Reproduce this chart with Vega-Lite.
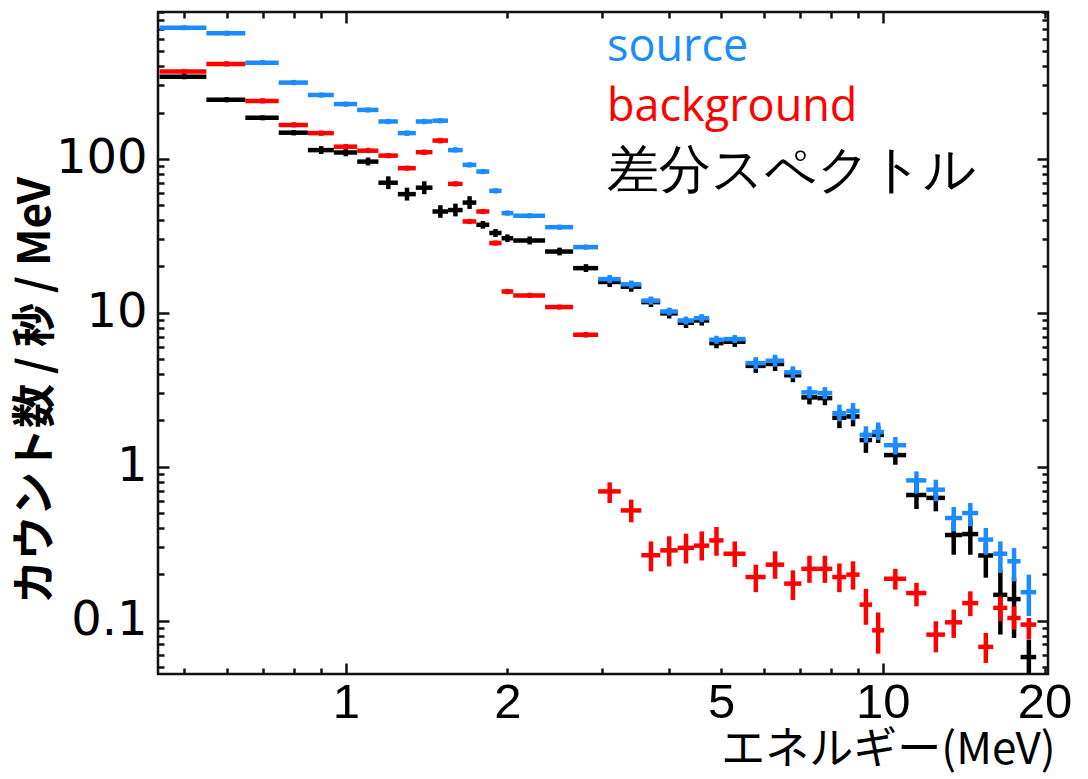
{
  "$schema": "https://vega.github.io/schema/vega-lite/v6.json",
  "width": 890,
  "height": 662,
  "autosize": {"type": "none"},
  "padding": {"left": 158, "top": 12, "right": 40, "bottom": 105},
  "background": "white",
  "config": {
    "view": {"stroke": "#111", "strokeWidth": 2.5},
    "axis": {"grid": false, "domain": false, "tickColor": "#111", "tickWidth": 2.5, "labelOverlap": false, "labelFlush": false, "labelBound": false, "labelColor": "#000", "titleColor": "#000"}
  },
  "datasets": {
    "diff": [
      {"s":"差分スペクトル","e0":0.45,"e1":0.55,"e":0.5,"v":342,"v0":329,"v1":356},
      {"s":"差分スペクトル","e0":0.55,"e1":0.65,"e":0.6,"v":242,"v0":233,"v1":252},
      {"s":"差分スペクトル","e0":0.65,"e1":0.75,"e":0.7,"v":185,"v0":178,"v1":192},
      {"s":"差分スペクトル","e0":0.75,"e1":0.85,"e":0.8,"v":148,"v0":142,"v1":154},
      {"s":"差分スペクトル","e0":0.85,"e1":0.95,"e":0.9,"v":114,"v0":107.5,"v1":121},
      {"s":"差分スペクトル","e0":0.95,"e1":1.05,"e":1.0,"v":110,"v0":104,"v1":117},
      {"s":"差分スペクトル","e0":1.05,"e1":1.15,"e":1.1,"v":96,"v0":90.6,"v1":102},
      {"s":"差分スペクトル","e0":1.15,"e1":1.25,"e":1.2,"v":70,"v0":63.6,"v1":77},
      {"s":"差分スペクトル","e0":1.25,"e1":1.35,"e":1.3,"v":59,"v0":53.6,"v1":65},
      {"s":"差分スペクトル","e0":1.35,"e1":1.45,"e":1.4,"v":65,"v0":59,"v1":71.5},
      {"s":"差分スペクトル","e0":1.45,"e1":1.55,"e":1.5,"v":45.5,"v0":41.4,"v1":50},
      {"s":"差分スペクトル","e0":1.55,"e1":1.65,"e":1.6,"v":46.5,"v0":42.3,"v1":51.2},
      {"s":"差分スペクトル","e0":1.65,"e1":1.75,"e":1.7,"v":52,"v0":47.3,"v1":57.2},
      {"s":"差分スペクトル","e0":1.75,"e1":1.85,"e":1.8,"v":37.3,"v0":35.2,"v1":39.5},
      {"s":"差分スペクトル","e0":1.85,"e1":1.95,"e":1.9,"v":33,"v0":31.1,"v1":35},
      {"s":"差分スペクトル","e0":1.95,"e1":2.05,"e":2.0,"v":30.5,"v0":28.8,"v1":32.3},
      {"s":"差分スペクトル","e0":2.05,"e1":2.35,"e":2.2,"v":29.5,"v0":27.8,"v1":31.3},
      {"s":"差分スペクトル","e0":2.35,"e1":2.65,"e":2.5,"v":25,"v0":23.6,"v1":26.5},
      {"s":"差分スペクトル","e0":2.65,"e1":2.95,"e":2.8,"v":19.5,"v0":18.4,"v1":20.7},
      {"s":"差分スペクトル","e0":2.95,"e1":3.25,"e":3.1,"v":15.86,"v0":14.7,"v1":17.1},
      {"s":"差分スペクトル","e0":3.25,"e1":3.55,"e":3.4,"v":14.78,"v0":13.7,"v1":16},
      {"s":"差分スペクトル","e0":3.55,"e1":3.85,"e":3.7,"v":11.73,"v0":10.9,"v1":12.7},
      {"s":"差分スペクトル","e0":3.85,"e1":4.15,"e":4.0,"v":9.91,"v0":9.18,"v1":10.7},
      {"s":"差分スペクトル","e0":4.15,"e1":4.45,"e":4.3,"v":8.61,"v0":7.97,"v1":9.3},
      {"s":"差分スペクトル","e0":4.45,"e1":4.75,"e":4.6,"v":8.92,"v0":8.26,"v1":9.63},
      {"s":"差分スペクトル","e0":4.75,"e1":5.05,"e":4.9,"v":6.35,"v0":5.88,"v1":6.86},
      {"s":"差分スペクトル","e0":5.05,"e1":5.55,"e":5.3,"v":6.48,"v0":6.0,"v1":7.0},
      {"s":"差分スペクトル","e0":5.55,"e1":6.05,"e":5.8,"v":4.52,"v0":4.07,"v1":5.02},
      {"s":"差分スペクトル","e0":6.05,"e1":6.55,"e":6.3,"v":4.65,"v0":4.19,"v1":5.16},
      {"s":"差分スペクトル","e0":6.55,"e1":7.05,"e":6.8,"v":3.93,"v0":3.54,"v1":4.36},
      {"s":"差分スペクトル","e0":7.05,"e1":7.55,"e":7.3,"v":2.82,"v0":2.54,"v1":3.13},
      {"s":"差分スペクトル","e0":7.55,"e1":8.05,"e":7.8,"v":2.79,"v0":2.51,"v1":3.1},
      {"s":"差分スペクトル","e0":8.05,"e1":8.55,"e":8.3,"v":2.08,"v0":1.78,"v1":2.34},
      {"s":"差分スペクトル","e0":8.55,"e1":9.05,"e":8.8,"v":2.12,"v0":1.83,"v1":2.4},
      {"s":"差分スペクトル","e0":9.05,"e1":9.55,"e":9.3,"v":1.49,"v0":1.23,"v1":1.7},
      {"s":"差分スペクトル","e0":9.55,"e1":10.05,"e":9.8,"v":1.61,"v0":1.425,"v1":1.85},
      {"s":"差分スペクトル","e0":10.05,"e1":11.05,"e":10.55,"v":1.19,"v0":1.03,"v1":1.425},
      {"s":"差分スペクトル","e0":11.05,"e1":12.05,"e":11.55,"v":0.655,"v0":0.531,"v1":0.803},
      {"s":"差分スペクトル","e0":12.05,"e1":13.05,"e":12.55,"v":0.627,"v0":0.513,"v1":0.738},
      {"s":"差分スペクトル","e0":13.05,"e1":14.05,"e":13.55,"v":0.36,"v0":0.268,"v1":0.441},
      {"s":"差分スペクトル","e0":14.05,"e1":15.05,"e":14.55,"v":0.365,"v0":0.268,"v1":0.464},
      {"s":"差分スペクトル","e0":15.05,"e1":16.05,"e":15.55,"v":0.265,"v0":0.19,"v1":0.32},
      {"s":"差分スペクトル","e0":16.05,"e1":17.05,"e":16.55,"v":0.147,"v0":0.0812,"v1":0.215},
      {"s":"差分スペクトル","e0":17.05,"e1":18.05,"e":17.55,"v":0.138,"v0":0.0772,"v1":0.19},
      {"s":"差分スペクトル","e0":18.05,"e1":19.3,"e":18.7,"v":0.058,"v0":0.03,"v1":0.075}
    ],
    "source": [
      {"s":"source","e0":0.45,"e1":0.55,"e":0.5,"v":712,"v0":685,"v1":740},
      {"s":"source","e0":0.55,"e1":0.65,"e":0.6,"v":655,"v0":630,"v1":681},
      {"s":"source","e0":0.65,"e1":0.75,"e":0.7,"v":422,"v0":406,"v1":439},
      {"s":"source","e0":0.75,"e1":0.85,"e":0.8,"v":313,"v0":301,"v1":326},
      {"s":"source","e0":0.85,"e1":0.95,"e":0.9,"v":260,"v0":250,"v1":270},
      {"s":"source","e0":0.95,"e1":1.05,"e":1.0,"v":227,"v0":218,"v1":236},
      {"s":"source","e0":1.05,"e1":1.15,"e":1.1,"v":208,"v0":200,"v1":216},
      {"s":"source","e0":1.15,"e1":1.25,"e":1.2,"v":175,"v0":168,"v1":182},
      {"s":"source","e0":1.25,"e1":1.35,"e":1.3,"v":147,"v0":141,"v1":153},
      {"s":"source","e0":1.35,"e1":1.45,"e":1.4,"v":175,"v0":168,"v1":182},
      {"s":"source","e0":1.45,"e1":1.55,"e":1.5,"v":177,"v0":170,"v1":184},
      {"s":"source","e0":1.55,"e1":1.65,"e":1.6,"v":114,"v0":110,"v1":119},
      {"s":"source","e0":1.65,"e1":1.75,"e":1.7,"v":91.4,"v0":87.9,"v1":95.1},
      {"s":"source","e0":1.75,"e1":1.85,"e":1.8,"v":82.7,"v0":79.5,"v1":86},
      {"s":"source","e0":1.85,"e1":1.95,"e":1.9,"v":62,"v0":59.6,"v1":64.5},
      {"s":"source","e0":1.95,"e1":2.05,"e":2.0,"v":44.4,"v0":42.7,"v1":46.2},
      {"s":"source","e0":2.05,"e1":2.35,"e":2.2,"v":42.7,"v0":41.1,"v1":44.4},
      {"s":"source","e0":2.35,"e1":2.65,"e":2.5,"v":36,"v0":34.6,"v1":37.4},
      {"s":"source","e0":2.65,"e1":2.95,"e":2.8,"v":26.7,"v0":25.7,"v1":27.8},
      {"s":"source","e0":2.95,"e1":3.25,"e":3.1,"v":16.55,"v0":15.6,"v1":17.6},
      {"s":"source","e0":3.25,"e1":3.55,"e":3.4,"v":15.3,"v0":14.4,"v1":16.2},
      {"s":"source","e0":3.55,"e1":3.85,"e":3.7,"v":12.0,"v0":11.3,"v1":12.7},
      {"s":"source","e0":3.85,"e1":4.15,"e":4.0,"v":10.2,"v0":9.6,"v1":10.8},
      {"s":"source","e0":4.15,"e1":4.45,"e":4.3,"v":8.91,"v0":8.39,"v1":9.46},
      {"s":"source","e0":4.45,"e1":4.75,"e":4.6,"v":9.23,"v0":8.69,"v1":9.8},
      {"s":"source","e0":4.75,"e1":5.05,"e":4.9,"v":6.68,"v0":6.29,"v1":7.09},
      {"s":"source","e0":5.05,"e1":5.55,"e":5.3,"v":6.75,"v0":6.36,"v1":7.17},
      {"s":"source","e0":5.55,"e1":6.05,"e":5.8,"v":4.71,"v0":4.31,"v1":5.15},
      {"s":"source","e0":6.05,"e1":6.55,"e":6.3,"v":4.88,"v0":4.46,"v1":5.34},
      {"s":"source","e0":6.55,"e1":7.05,"e":6.8,"v":4.1,"v0":3.75,"v1":4.49},
      {"s":"source","e0":7.05,"e1":7.55,"e":7.3,"v":3.04,"v0":2.78,"v1":3.33},
      {"s":"source","e0":7.55,"e1":8.05,"e":7.8,"v":3.01,"v0":2.75,"v1":3.29},
      {"s":"source","e0":8.05,"e1":8.55,"e":8.3,"v":2.23,"v0":1.97,"v1":2.53},
      {"s":"source","e0":8.55,"e1":9.05,"e":8.8,"v":2.3,"v0":2.0,"v1":2.59},
      {"s":"source","e0":9.05,"e1":9.55,"e":9.3,"v":1.61,"v0":1.43,"v1":1.83},
      {"s":"source","e0":9.55,"e1":10.05,"e":9.8,"v":1.68,"v0":1.49,"v1":1.94},
      {"s":"source","e0":10.05,"e1":11.05,"e":10.55,"v":1.38,"v0":1.2,"v1":1.56},
      {"s":"source","e0":11.05,"e1":12.05,"e":11.55,"v":0.815,"v0":0.668,"v1":0.932},
      {"s":"source","e0":12.05,"e1":13.05,"e":12.55,"v":0.709,"v0":0.595,"v1":0.823},
      {"s":"source","e0":13.05,"e1":14.05,"e":13.55,"v":0.464,"v0":0.38,"v1":0.547},
      {"s":"source","e0":14.05,"e1":15.05,"e":14.55,"v":0.5,"v0":0.41,"v1":0.581},
      {"s":"source","e0":15.05,"e1":16.05,"e":15.55,"v":0.336,"v0":0.268,"v1":0.4},
      {"s":"source","e0":16.05,"e1":17.05,"e":16.55,"v":0.272,"v0":0.204,"v1":0.327},
      {"s":"source","e0":17.05,"e1":18.05,"e":17.55,"v":0.243,"v0":0.18,"v1":0.296},
      {"s":"source","e0":18.05,"e1":19.3,"e":18.7,"v":0.153,"v0":0.107,"v1":0.199}
    ],
    "background": [
      {"s":"background","e0":0.45,"e1":0.55,"e":0.5,"v":369,"v0":355,"v1":384},
      {"s":"background","e0":0.55,"e1":0.65,"e":0.6,"v":414,"v0":398,"v1":431},
      {"s":"background","e0":0.65,"e1":0.75,"e":0.7,"v":238,"v0":229,"v1":248},
      {"s":"background","e0":0.75,"e1":0.85,"e":0.8,"v":166,"v0":160,"v1":173},
      {"s":"background","e0":0.85,"e1":0.95,"e":0.9,"v":147,"v0":141,"v1":153},
      {"s":"background","e0":0.95,"e1":1.05,"e":1.0,"v":120,"v0":115,"v1":125},
      {"s":"background","e0":1.05,"e1":1.15,"e":1.1,"v":113,"v0":109,"v1":118},
      {"s":"background","e0":1.15,"e1":1.25,"e":1.2,"v":105,"v0":101,"v1":109},
      {"s":"background","e0":1.25,"e1":1.35,"e":1.3,"v":87,"v0":83.7,"v1":90.5},
      {"s":"background","e0":1.35,"e1":1.45,"e":1.4,"v":110.5,"v0":106,"v1":115},
      {"s":"background","e0":1.45,"e1":1.55,"e":1.5,"v":131.5,"v0":126,"v1":137},
      {"s":"background","e0":1.55,"e1":1.65,"e":1.6,"v":68.8,"v0":66.2,"v1":71.6},
      {"s":"background","e0":1.65,"e1":1.75,"e":1.7,"v":39.2,"v0":37.7,"v1":40.8},
      {"s":"background","e0":1.75,"e1":1.85,"e":1.8,"v":45.5,"v0":43.8,"v1":47.3},
      {"s":"background","e0":1.85,"e1":1.95,"e":1.9,"v":28.4,"v0":27.3,"v1":29.5},
      {"s":"background","e0":1.95,"e1":2.05,"e":2.0,"v":13.75,"v0":13.2,"v1":14.3},
      {"s":"background","e0":2.05,"e1":2.35,"e":2.2,"v":12.95,"v0":12.5,"v1":13.5},
      {"s":"background","e0":2.35,"e1":2.65,"e":2.5,"v":10.9,"v0":10.5,"v1":11.3},
      {"s":"background","e0":2.65,"e1":2.95,"e":2.8,"v":7.2,"v0":6.9,"v1":7.5},
      {"s":"background","e0":2.95,"e1":3.25,"e":3.1,"v":0.691,"v0":0.581,"v1":0.791},
      {"s":"background","e0":3.25,"e1":3.55,"e":3.4,"v":0.52,"v0":0.435,"v1":0.611},
      {"s":"background","e0":3.55,"e1":3.85,"e":3.7,"v":0.266,"v0":0.209,"v1":0.327},
      {"s":"background","e0":3.85,"e1":4.15,"e":4.0,"v":0.286,"v0":0.225,"v1":0.353},
      {"s":"background","e0":4.15,"e1":4.45,"e":4.3,"v":0.297,"v0":0.235,"v1":0.367},
      {"s":"background","e0":4.45,"e1":4.75,"e":4.6,"v":0.307,"v0":0.246,"v1":0.38},
      {"s":"background","e0":4.75,"e1":5.05,"e":4.9,"v":0.332,"v0":0.264,"v1":0.406},
      {"s":"background","e0":5.05,"e1":5.55,"e":5.3,"v":0.272,"v0":0.223,"v1":0.327},
      {"s":"background","e0":5.55,"e1":6.05,"e":5.8,"v":0.192,"v0":0.153,"v1":0.231},
      {"s":"background","e0":6.05,"e1":6.55,"e":6.3,"v":0.231,"v0":0.187,"v1":0.282},
      {"s":"background","e0":6.55,"e1":7.05,"e":6.8,"v":0.174,"v0":0.136,"v1":0.212},
      {"s":"background","e0":7.05,"e1":7.55,"e":7.3,"v":0.217,"v0":0.176,"v1":0.264},
      {"s":"background","e0":7.55,"e1":8.05,"e":7.8,"v":0.217,"v0":0.176,"v1":0.264},
      {"s":"background","e0":8.05,"e1":8.55,"e":8.3,"v":0.192,"v0":0.153,"v1":0.235},
      {"s":"background","e0":8.55,"e1":9.05,"e":8.8,"v":0.199,"v0":0.159,"v1":0.243},
      {"s":"background","e0":9.05,"e1":9.55,"e":9.3,"v":0.127,"v0":0.094,"v1":0.161},
      {"s":"background","e0":9.55,"e1":10.05,"e":9.8,"v":0.0865,"v0":0.061,"v1":0.113},
      {"s":"background","e0":10.05,"e1":11.05,"e":10.55,"v":0.187,"v0":0.159,"v1":0.217},
      {"s":"background","e0":11.05,"e1":12.05,"e":11.55,"v":0.151,"v0":0.124,"v1":0.176},
      {"s":"background","e0":12.05,"e1":13.05,"e":12.55,"v":0.0811,"v0":0.0622,"v1":0.099},
      {"s":"background","e0":13.05,"e1":14.05,"e":13.55,"v":0.0975,"v0":0.0772,"v1":0.118},
      {"s":"background","e0":14.05,"e1":15.05,"e":14.55,"v":0.13,"v0":0.107,"v1":0.155},
      {"s":"background","e0":15.05,"e1":16.05,"e":15.55,"v":0.0675,"v0":0.0531,"v1":0.0832},
      {"s":"background","e0":16.05,"e1":17.05,"e":16.55,"v":0.121,"v0":0.099,"v1":0.144},
      {"s":"background","e0":17.05,"e1":18.05,"e":17.55,"v":0.104,"v0":0.0874,"v1":0.124},
      {"s":"background","e0":18.05,"e1":19.3,"e":18.7,"v":0.0942,"v0":0.0753,"v1":0.104}
    ]
  },
  "layer": [
    {
      "data": {"name": "diff"},
      "mark": {"type": "rule", "strokeWidth": 4.5, "clip": true},
      "encoding": {
        "x": {
          "field": "e0", "type": "quantitative",
          "scale": {"type": "log", "domain": [0.447, 20.3], "nice": false},
          "axis": {
            "orient": "bottom",
            "values": [0.5, 0.6, 0.7, 0.8, 0.9, 1, 2, 3, 4, 5, 6, 7, 8, 9, 10, 20],
            "labelExpr": "indexof([1, 2, 5, 10, 20], datum.value) >= 0 ? '' + datum.value : ''",
            "tickSize": {"condition": {"test": "datum.value == 1 || datum.value == 10", "value": -11}, "value": -6},
            "labelPadding": {"condition": {"test": "datum.value == 1 || datum.value == 10", "value": 15}, "value": 10},
            "labelFont": "Liberation Sans", "labelFontSize": 49, "labelBaseline": "top",
            "title": "エネルギー(MeV)", "titleFont": "Noto Sans CJK JP", "titleFontSize": 44, "titleFontWeight": "normal",
            "titleX": 730, "titleY": 76, "titleAlign": "center", "titleBaseline": "middle"
          }
        },
        "x2": {"field": "e1"},
        "y": {
          "field": "v", "type": "quantitative",
          "scale": {"type": "log", "domain": [0.045, 900], "nice": false},
          "axis": {
            "orient": "left",
            "values": [0.05, 0.06, 0.07, 0.08, 0.09, 0.1, 0.2, 0.3, 0.4, 0.5, 0.6, 0.7, 0.8, 0.9, 1, 2, 3, 4, 5, 6, 7, 8, 9, 10, 20, 30, 40, 50, 60, 70, 80, 90, 100, 200, 300, 400, 500, 600, 700, 800, 900],
            "labelExpr": "indexof([0.1, 1, 10, 100], datum.value) >= 0 ? '' + datum.value : ''",
            "tickSize": {"condition": {"test": "datum.value == 0.1 || datum.value == 1 || datum.value == 10 || datum.value == 100", "value": -11}, "value": -6},
            "labelPadding": {"condition": {"test": "datum.value == 0.1 || datum.value == 1 || datum.value == 10 || datum.value == 100", "value": 22}, "value": 17},
            "labelFont": "DejaVu Sans", "labelFontSize": 48,
            "title": "カウント数 / 秒 / MeV", "titleFont": "Noto Sans CJK JP", "titleFontSize": 44, "titleFontWeight": "bold",
            "titleAngle": -90, "titleX": -122, "titleY": 378, "titleAlign": "center", "titleBaseline": "middle"
          }
        },
        "color": {
          "field": "s", "type": "nominal",
          "scale": {"domain": ["source", "background", "差分スペクトル"], "range": ["#1a8cff", "#ff0000", "#000000"]},
          "legend": {
            "orient": "none", "legendX": 404, "legendY": 12, "title": null,
            "symbolSize": 0, "symbolStrokeWidth": 0, "symbolOpacity": 0, "labelOffset": 0,
            "labelFont": "Open Sans", "labelFontSize": {"expr": "datum.label == '差分スペクトル' ? 52 : 45"},
            "labelColor": {"expr": "datum.label == 'source' ? '#1a8cff' : datum.label == 'background' ? '#ff0000' : '#000000'"},
            "rowPadding": 14, "labelLimit": 600
          }
        }
      }
    },
    {
      "data": {"name": "diff"},
      "mark": {"type": "rule", "strokeWidth": 4.5, "clip": true},
      "encoding": {
        "x": {
          "field": "e", "type": "quantitative",
          "scale": {"type": "log", "domain": [0.447, 20.3], "nice": false},
          "axis": {
            "orient": "top", "labels": false, "title": null,
            "values": [0.5, 0.6, 0.7, 0.8, 0.9, 1, 2, 3, 4, 5, 6, 7, 8, 9, 10, 20],
            "tickSize": {"condition": {"test": "datum.value == 1 || datum.value == 10", "value": -11}, "value": -6}
          }
        },
        "y": {
          "field": "v0", "type": "quantitative",
          "scale": {"type": "log", "domain": [0.045, 900], "nice": false},
          "axis": {
            "orient": "right", "labels": false, "title": null,
            "values": [0.05, 0.06, 0.07, 0.08, 0.09, 0.1, 0.2, 0.3, 0.4, 0.5, 0.6, 0.7, 0.8, 0.9, 1, 2, 3, 4, 5, 6, 7, 8, 9, 10, 20, 30, 40, 50, 60, 70, 80, 90, 100, 200, 300, 400, 500, 600, 700, 800, 900],
            "tickSize": {"condition": {"test": "datum.value == 0.1 || datum.value == 1 || datum.value == 10 || datum.value == 100", "value": -11}, "value": -6}
          }
        },
        "y2": {"field": "v1"},
        "color": {"field": "s", "type": "nominal", "scale": {"domain": ["source", "background", "差分スペクトル"], "range": ["#1a8cff", "#ff0000", "#000000"]}}
      }
    },
    {
      "data": {"name": "source"},
      "mark": {"type": "rule", "strokeWidth": 4.5, "clip": true},
      "encoding": {
        "x": {"field": "e0", "type": "quantitative", "scale": {"type": "log", "domain": [0.447, 20.3], "nice": false}, "axis": null},
        "x2": {"field": "e1"},
        "y": {"field": "v", "type": "quantitative", "scale": {"type": "log", "domain": [0.045, 900], "nice": false}, "axis": null},
        "color": {"field": "s", "type": "nominal", "scale": {"domain": ["source", "background", "差分スペクトル"], "range": ["#1a8cff", "#ff0000", "#000000"]}}
      }
    },
    {
      "data": {"name": "source"},
      "mark": {"type": "rule", "strokeWidth": 4.5, "clip": true},
      "encoding": {
        "x": {"field": "e", "type": "quantitative", "scale": {"type": "log", "domain": [0.447, 20.3], "nice": false}, "axis": null},
        "y": {"field": "v0", "type": "quantitative", "scale": {"type": "log", "domain": [0.045, 900], "nice": false}, "axis": null},
        "y2": {"field": "v1"},
        "color": {"field": "s", "type": "nominal", "scale": {"domain": ["source", "background", "差分スペクトル"], "range": ["#1a8cff", "#ff0000", "#000000"]}}
      }
    },
    {
      "data": {"name": "background"},
      "mark": {"type": "rule", "strokeWidth": 4.5, "clip": true},
      "encoding": {
        "x": {"field": "e0", "type": "quantitative", "scale": {"type": "log", "domain": [0.447, 20.3], "nice": false}, "axis": null},
        "x2": {"field": "e1"},
        "y": {"field": "v", "type": "quantitative", "scale": {"type": "log", "domain": [0.045, 900], "nice": false}, "axis": null},
        "color": {"field": "s", "type": "nominal", "scale": {"domain": ["source", "background", "差分スペクトル"], "range": ["#1a8cff", "#ff0000", "#000000"]}}
      }
    },
    {
      "data": {"name": "background"},
      "mark": {"type": "rule", "strokeWidth": 4.5, "clip": true},
      "encoding": {
        "x": {"field": "e", "type": "quantitative", "scale": {"type": "log", "domain": [0.447, 20.3], "nice": false}, "axis": null},
        "y": {"field": "v0", "type": "quantitative", "scale": {"type": "log", "domain": [0.045, 900], "nice": false}, "axis": null},
        "y2": {"field": "v1"},
        "color": {"field": "s", "type": "nominal", "scale": {"domain": ["source", "background", "差分スペクトル"], "range": ["#1a8cff", "#ff0000", "#000000"]}}
      }
    }
  ],
  "resolve": {"axis": {"x": "independent", "y": "independent"}}
}
